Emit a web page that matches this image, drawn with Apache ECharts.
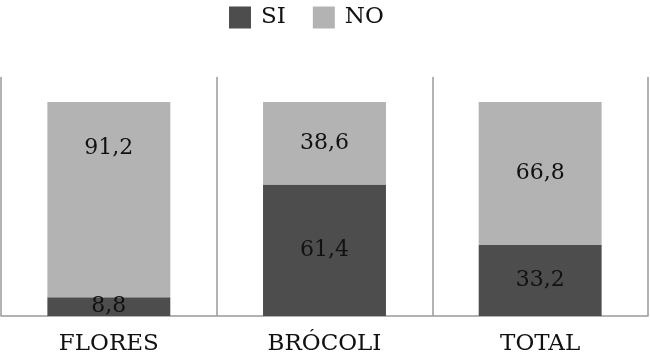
<!DOCTYPE html>
<html>
<head>
<meta charset="utf-8">
<script src="https://cdn.jsdelivr.net/npm/echarts@6/dist/echarts.min.js"></script>
<style>
  html, body { margin: 0; padding: 0; background: #fff; }
  #chart { width: 650px; height: 352px; }
</style>
</head>
<body>
<div id="chart"></div>
<script>
// categorias y porcentajes
var categories = ["FLORES", "BRÓCOLI", "TOTAL"];
var siData = [8.8, 61.4, 33.2];
var noData = [91.2, 38.6, 66.8];

var fontFamily = "DejaVu Serif";

var myChart = echarts.init(document.getElementById("chart"));

function fmt(p) {
  return String(p.value).replace(".", ",");
}

// la etiqueta de FLORES/NO esta arriba en el original
var noSeriesData = noData.map(function (v, i) {
  if (i === 0) {
    return { value: v, label: { position: "insideTop", distance: 35 } };
  }
  return v;
});

var option = {
  animation: false,
  color: ["#4d4d4d", "#b3b3b3"],
  textStyle: { fontFamily: fontFamily },
  legend: {
    left: 224,
    top: 1,
    itemWidth: 22,
    itemHeight: 22,
    itemGap: 27,
    icon: "rect",
    textStyle: {
      fontSize: 23,
      color: "#111",
      fontFamily: fontFamily,
      padding: [0, 0, 0, 5],
    },
    data: ["SI", "NO"],
  },
  grid: {
    left: 1,
    right: 2,
    top: 77,
    bottom: 36,
    containLabel: false,
    outerBoundsMode: "none",
  },
  xAxis: {
    type: "category",
    data: categories,
    axisTick: { show: false },
    axisLine: { show: true, lineStyle: { color: "#999", width: 1.5 } },
    splitLine: { show: true, lineStyle: { color: "#999", width: 1.5 } },
    axisLabel: { fontSize: 23, color: "#111", margin: 17, fontFamily: fontFamily },
  },
  yAxis: {
    type: "value",
    min: 0,
    max: 111.7,
    show: false,
    splitLine: { show: false },
  },
  series: [
    {
      name: "SI",
      type: "bar",
      stack: "total",
      barWidth: "57%",
      data: siData,
      label: {
        show: true,
        position: "inside",
        color: "#111",
        fontSize: 22,
        fontFamily: fontFamily,
        formatter: fmt,
      },
    },
    {
      name: "NO",
      type: "bar",
      stack: "total",
      barWidth: "57%",
      data: noSeriesData,
      label: {
        show: true,
        position: "inside",
        color: "#111",
        fontSize: 22,
        fontFamily: fontFamily,
        formatter: fmt,
      },
    },
  ],
};

myChart.setOption(option);
</script>
</body>
</html>
